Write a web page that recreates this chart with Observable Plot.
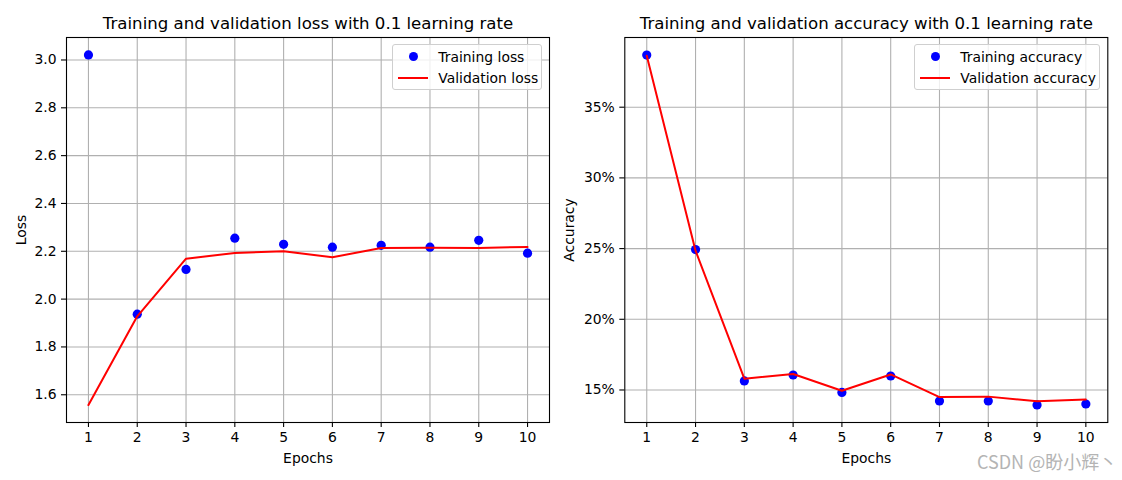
<!DOCTYPE html>
<html><head><meta charset="utf-8">
<script src="https://cdn.jsdelivr.net/npm/d3@7"></script>
<script src="https://cdn.jsdelivr.net/npm/@observablehq/plot@0.6"></script>
<style>
body{margin:0;background:#fff;font-family:"DejaVu Sans",sans-serif;}
#wrap{position:relative;width:1122px;height:480px;overflow:hidden;background:#fff}
.panel{position:absolute;top:0}
.legend{position:absolute;border:1px solid #cfcfcf;border-radius:3px;background:rgba(255,255,255,0.8);font-size:13.9px;color:#000;box-sizing:border-box}
.legend .dot{position:absolute;width:9px;height:9px;border-radius:50%;background:blue}
.legend .ln{position:absolute;height:2px;background:red}
.legend .tx{position:absolute;line-height:16px;white-space:nowrap}
.wm{position:absolute;font-family:"Noto Sans CJK SC","DejaVu Sans",sans-serif;font-size:18px;line-height:18px;color:#b4b4b4;white-space:nowrap}
</style></head>
<body><div id="wrap"></div>
<script>
const epochs = [1,2,3,4,5,6,7,8,9,10];
const trainLoss = [3.021, 1.937, 2.124, 2.255, 2.229, 2.217, 2.225, 2.217, 2.246, 2.192];
const valLoss = [1.557, 1.928, 2.169, 2.193, 2.200, 2.175, 2.214, 2.215, 2.214, 2.218];
const trainAcc = [0.3869, 0.2493, 0.1564, 0.1606, 0.1483, 0.1599, 0.1422, 0.1422, 0.1394, 0.1401];
const valAcc = [0.3864, 0.2485, 0.1580, 0.1613, 0.1495, 0.1610, 0.1450, 0.1453, 0.1420, 0.1433];
const lossTicks = [1.6, 1.8, 2.0, 2.2, 2.4, 2.6, 2.8, 3.0];
const accTicks = [0.15, 0.20, 0.25, 0.30, 0.35];
const titles = ["Training and validation loss with 0.1 learning rate", "Training and validation accuracy with 0.1 learning rate"];
const legendLabels = [["Training loss", "Validation loss"], ["Training accuracy", "Validation accuracy"]];

const lossData = epochs.map((e,i)=>({epoch:e, train:trainLoss[i], val:valLoss[i]}));
const accData = epochs.map((e,i)=>({epoch:e, train:trainAcc[i], val:valAcc[i]}));

const wrap = document.getElementById("wrap");
const grid = {stroke:"#b0b0b0", strokeOpacity:1, strokeWidth:1.1};

function panel({data, yDomain, yTicks, yFormat, yLabel, title, left, mLeft, mRight, labelOffsetY}) {
  const p = Plot.plot({
    width: 561, height: 480,
    marginLeft: mLeft, marginRight: mRight, marginTop: 37, marginBottom: 58,
    style: {fontFamily: "DejaVu Sans", fontSize: "13.9px", color: "black", background: "white", overflow: "visible"},
    x: {domain: [0.55, 10.45]},
    y: {domain: yDomain},
    marks: [
      Plot.gridX(epochs, grid),
      Plot.gridY(yTicks, grid),
      Plot.dot(data, {x: "epoch", y: "train", r: 4.6, fill: "blue", stroke: "none"}),
      Plot.line(data, {x: "epoch", y: "val", stroke: "red", strokeWidth: 2}),
      Plot.frame({stroke: "black", strokeWidth: 1.1}),
      Plot.axisX(epochs, {tickFormat: "d", tickSize: 5, tickPadding: 5, label: "Epochs", labelAnchor: "center", labelArrow: "none", labelOffset: 40, strokeWidth: 1.1}),
      Plot.axisY(yTicks, {tickFormat: yFormat, tickSize: 5, tickPadding: 5, label: yLabel, labelAnchor: "center", labelArrow: "none", labelOffset: labelOffsetY, strokeWidth: 1.1}),
      Plot.text([title], {frameAnchor: "top", dy: -20, fontSize: 16.6, text: d => d})
    ]
  });
  p.classList.add("panel");
  p.style.left = left + "px";
  wrap.appendChild(p);
}

panel({data: lossData, yDomain: [1.484, 3.094], yTicks: lossTicks, yFormat: ".1f", yLabel: "Loss", title: titles[0], left: 0, mLeft: 66, mRight: 12, labelOffsetY: 50});
panel({data: accData, yDomain: [0.1270, 0.3993], yTicks: accTicks, yFormat: ".0%", yLabel: "Accuracy", title: titles[1], left: 561, mLeft: 63.3, mRight: 14.7, labelOffsetY: 61});

function legend(x, y, w, labels) {
  const L = document.createElement("div");
  L.className = "legend";
  Object.assign(L.style, {left: x + "px", top: y + "px", width: w + "px", height: "46px"});
  L.innerHTML = `<span class="dot" style="left:${15.5}px;top:${7.2}px"></span>` +
    `<span class="tx" style="left:45px;top:3.5px">${labels[0]}</span>` +
    `<span class="ln" style="left:5px;top:31.7px;width:29.4px"></span>` +
    `<span class="tx" style="left:45px;top:24.5px">${labels[1]}</span>`;
  wrap.appendChild(L);
}
legend(392.3, 44.3, 150, legendLabels[0]);
legend(914.3, 44.3, 186, legendLabels[1]);

const wm = document.createElement("div");
wm.className = "wm";
wm.textContent = "CSDN @盼小辉丶";
Object.assign(wm.style, {left: "977px", top: "452px"});
wrap.appendChild(wm);
</script></body></html>
